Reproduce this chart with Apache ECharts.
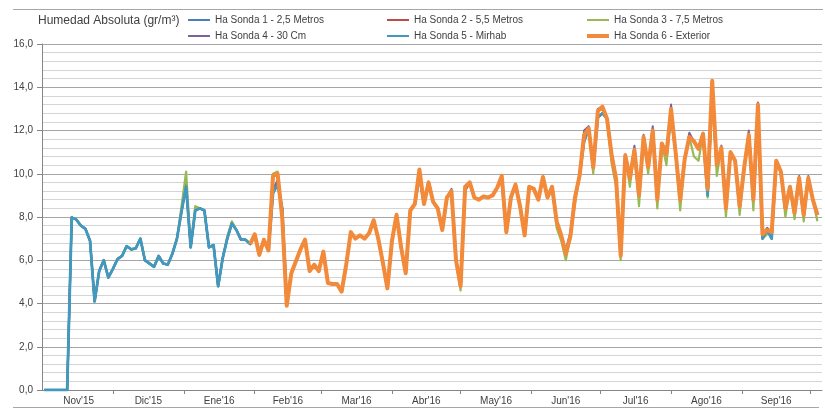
<!DOCTYPE html>
<html>
<head>
<meta charset="utf-8">
<title>Humedad Absoluta</title>
<script src="https://cdn.jsdelivr.net/npm/echarts@6/dist/echarts.min.js"></script>
<style>
	html, body { margin: 0; padding: 0; background: #fff; }
	#main { width: 825px; height: 410px; }
</style>
</head>
<body>
<div id="main"></div>
<script>
// lecturas cada 2 dias desde el 1 de noviembre de 2015
var firstReading = Date.UTC(2015, 10, 1);
var stepDays = 2;
var monthLabels = ["Nov'15", "Dic'15", "Ene'16", "Feb'16", "Mar'16", "Abr'16", "May'16", "Jun'16", "Jul'16", "Ago'16", "Sep'16"];
var seriesNames = ['Ha Sonda 1 - 2,5 Metros', 'Ha Sonda 2 - 5,5 Metros', 'Ha Sonda 3 - 7,5 Metros',
	'Ha Sonda 4 - 30 Cm', 'Ha Sonda 5 - Mirhab', 'Ha Sonda 6 - Exterior'];

var sonda1 = [
	0, 0, 0, 0, 0, 0, 7.98, 7.88, 7.6, 7.45,
	6.9, 4.1, 5.5, 6.0, 5.2, 5.6, 6.05, 6.2, 6.65, 6.5,
	6.55, 7.0, 6.0, 5.85, 5.7, 6.2, 5.85, 5.8, 6.3, 7.0,
	8.25, 9.5, 6.6, 8.3, 8.4, 8.3, 6.6, 6.7, 4.8, 6.1,
	7.0, 7.7, 7.4, 6.95, 6.95, 6.75, 7.2, 6.25, 6.95, 6.45,
	9.2, 9.6, 8.4, 4.1, 5.4, 5.95, 6.5, 6.95, 5.5, 5.8,
	5.5, 6.4, 4.95, 4.9, 4.9, 4.55, 5.8, 7.3, 7.0, 7.15,
	7.0, 7.25, 7.85, 7.0, 5.9, 4.7, 6.9, 8.1, 6.6, 5.4,
	8.3, 8.6, 9.9, 8.6, 9.6, 8.7, 8.4, 7.4, 8.9, 9.2,
	6.0, 4.8, 9.2, 9.6, 8.9, 8.8, 8.95, 8.9, 9.0, 9.35,
	9.7, 7.3, 8.9, 9.5, 8.5, 7.15, 9.4, 9.3, 8.8, 9.85,
	8.9, 9.4, 7.8, 7.15, 6.3, 7.1, 8.9, 9.9, 11.5, 12.1,
	10.3, 12.6, 12.8, 12.55, 10.9, 9.74, 6.2, 10.85, 9.8, 11.1,
	9.0, 11.7, 10.3, 12.0, 9.0, 11.4, 10.9, 12.7, 11.0, 8.8,
	10.7, 11.7, 11.5, 11.15, 11.85, 9.0, 13.6, 10.4, 11.2, 8.6,
	11.0, 10.6, 8.5, 10.3, 11.8, 8.8, 12.8, 7.1, 7.4, 7.0,
	10.6, 10.1, 8.4, 9.4, 8.2, 9.8, 8.1, 9.8, 8.8, 8.1
];
var sonda2 = [
	0, 0, 0, 0, 0, 0, 7.98, 7.88, 7.6, 7.45,
	6.9, 4.1, 5.5, 6.0, 5.2, 5.6, 6.05, 6.2, 6.65, 6.5,
	6.55, 7.0, 6.0, 5.85, 5.7, 6.2, 5.85, 5.8, 6.3, 7.0,
	8.3, 9.6, 6.6, 8.3, 8.4, 8.3, 6.6, 6.7, 4.8, 6.1,
	7.0, 7.7, 7.4, 6.95, 6.95, 6.75, 7.2, 6.25, 6.95, 6.45,
	9.1, 9.5, 8.4, 4.1, 5.4, 5.95, 6.5, 6.95, 5.5, 5.8,
	5.5, 6.4, 4.95, 4.9, 4.9, 4.55, 5.8, 7.3, 7.0, 7.15,
	7.0, 7.25, 7.85, 7.0, 5.9, 4.7, 6.9, 8.1, 6.6, 5.4,
	8.3, 8.6, 9.9, 8.6, 9.6, 8.7, 8.4, 7.4, 8.9, 9.2,
	6.0, 4.8, 9.4, 9.6, 8.9, 8.8, 8.95, 8.9, 9.0, 9.35,
	9.7, 7.3, 8.9, 9.5, 8.5, 7.15, 9.4, 9.3, 8.8, 9.85,
	8.9, 9.4, 7.8, 7.15, 6.3, 7.1, 8.9, 9.9, 11.5, 12.1,
	10.3, 12.6, 12.8, 12.55, 10.9, 9.74, 6.2, 10.85, 9.8, 11.1,
	9.0, 11.7, 10.3, 12.0, 9.0, 11.4, 10.9, 12.7, 11.0, 8.8,
	10.7, 11.7, 11.5, 11.15, 11.85, 9.0, 13.7, 10.4, 11.2, 8.6,
	11.0, 10.6, 8.5, 10.3, 11.8, 8.8, 12.8, 7.0, 7.4, 7.0,
	10.6, 10.1, 8.4, 9.4, 8.2, 9.8, 8.1, 9.8, 8.8, 8.1
];
var sonda3 = [
	0, 0, 0, 0, 0, 0, 7.98, 7.88, 7.6, 7.45,
	6.9, 4.1, 5.5, 6.0, 5.2, 5.6, 6.05, 6.2, 6.65, 6.5,
	6.55, 7.0, 6.0, 5.85, 5.7, 6.2, 5.85, 5.8, 6.3, 7.0,
	8.5, 10.1, 6.6, 8.5, 8.4, 8.3, 6.6, 6.7, 4.8, 6.1,
	7.1, 7.8, 7.4, 6.95, 6.95, 6.75, 7.2, 6.25, 6.95, 6.45,
	10.0, 10.1, 8.0, 3.9, 5.4, 5.95, 6.5, 6.95, 5.5, 5.8,
	5.5, 6.4, 4.95, 4.9, 4.9, 4.55, 5.8, 7.3, 7.0, 7.15,
	7.0, 7.25, 7.85, 7.0, 5.9, 4.7, 6.9, 8.1, 6.6, 5.4,
	8.3, 8.6, 10.0, 8.6, 9.6, 8.7, 8.4, 7.4, 8.9, 9.2,
	6.0, 4.6, 9.4, 9.6, 8.9, 8.8, 8.95, 8.9, 9.0, 9.35,
	9.9, 7.3, 8.9, 9.5, 8.5, 7.15, 9.4, 9.3, 8.8, 9.85,
	8.9, 9.4, 7.5, 6.9, 6.0, 7.1, 8.6, 9.9, 11.8, 12.1,
	10.0, 12.9, 13.1, 12.55, 10.5, 9.4, 6.0, 10.85, 9.4, 11.1,
	8.5, 11.7, 10.0, 12.0, 8.4, 11.4, 10.4, 13.0, 11.0, 8.3,
	10.7, 11.7, 10.8, 10.6, 11.85, 8.9, 14.0, 9.9, 11.2, 8.0,
	11.0, 10.6, 8.1, 10.3, 11.8, 8.3, 13.2, 7.0, 7.2, 7.3,
	10.6, 10.1, 8.0, 9.4, 7.9, 9.8, 7.8, 9.8, 8.8, 7.8
];
var sonda4 = [
	0, 0, 0, 0, 0, 0, 7.98, 7.88, 7.6, 7.45,
	6.9, 4.1, 5.5, 6.0, 5.2, 5.6, 6.05, 6.2, 6.65, 6.5,
	6.55, 7.0, 6.0, 5.85, 5.7, 6.2, 5.85, 5.8, 6.3, 7.0,
	8.25, 9.4, 6.6, 8.3, 8.4, 8.3, 6.6, 6.7, 4.8, 6.1,
	7.0, 7.7, 7.4, 6.95, 6.95, 6.75, 7.2, 6.25, 6.95, 6.45,
	9.3, 9.7, 8.3, 4.0, 5.4, 5.95, 6.5, 6.95, 5.5, 5.8,
	5.5, 6.4, 4.95, 4.9, 4.9, 4.55, 5.8, 7.3, 7.0, 7.15,
	7.0, 7.25, 7.85, 7.0, 5.9, 4.7, 6.9, 8.1, 6.6, 5.4,
	8.3, 8.6, 10.0, 8.6, 9.6, 8.7, 8.4, 7.4, 8.9, 9.3,
	6.0, 4.8, 9.4, 9.6, 8.9, 8.8, 8.95, 8.9, 9.0, 9.35,
	9.8, 7.3, 8.9, 9.5, 8.5, 7.15, 9.4, 9.3, 8.8, 9.85,
	8.9, 9.4, 7.8, 7.15, 6.5, 7.3, 8.9, 9.9, 12.0, 12.2,
	10.3, 13.0, 13.1, 12.6, 10.9, 9.74, 6.3, 10.9, 9.8, 11.3,
	9.0, 11.8, 10.3, 12.2, 9.0, 11.4, 10.9, 13.2, 11.0, 8.8,
	10.7, 11.9, 11.5, 11.15, 11.9, 9.3, 13.9, 10.4, 11.3, 8.6,
	11.0, 10.6, 8.5, 10.3, 12.0, 8.8, 13.3, 7.2, 7.5, 7.3,
	10.6, 10.1, 8.4, 9.4, 8.2, 9.9, 8.1, 9.9, 8.8, 8.2
];
var sonda5 = [
	0, 0, 0, 0, 0, 0, 7.98, 7.88, 7.6, 7.45,
	6.9, 4.1, 5.5, 6.0, 5.2, 5.6, 6.05, 6.2, 6.65, 6.5,
	6.55, 7.0, 6.0, 5.85, 5.7, 6.2, 5.85, 5.8, 6.3, 7.0,
	8.25, 9.4, 6.6, 8.3, 8.4, 8.3, 6.6, 6.7, 4.8, 6.1,
	7.0, 7.7, 7.4, 6.95, 6.95, 6.75, 7.2, 6.25, 6.95, 6.45,
	9.1, 9.5, 8.4, 4.1, 5.4, 5.95, 6.5, 6.95, 5.5, 5.8,
	5.5, 6.4, 4.95, 4.9, 4.9, 4.55, 5.8, 7.3, 7.0, 7.15,
	7.0, 7.25, 7.85, 7.0, 5.9, 4.7, 6.9, 8.1, 6.6, 5.4,
	8.3, 8.6, 9.9, 8.6, 9.6, 8.7, 8.4, 7.4, 8.9, 9.2,
	6.0, 4.8, 9.4, 9.6, 8.9, 8.8, 8.95, 8.9, 9.0, 9.35,
	9.7, 7.3, 8.9, 9.5, 8.5, 7.15, 9.4, 9.3, 8.8, 9.85,
	8.9, 9.4, 7.8, 7.15, 6.3, 7.1, 8.9, 9.9, 11.5, 12.1,
	10.3, 12.6, 12.8, 12.55, 10.9, 9.74, 6.2, 10.85, 9.8, 11.1,
	9.0, 11.7, 10.3, 12.0, 9.0, 11.4, 10.9, 12.7, 11.0, 8.8,
	10.7, 11.7, 11.5, 11.15, 11.85, 9.0, 13.8, 10.4, 11.2, 8.6,
	11.0, 10.6, 8.5, 10.3, 11.8, 8.8, 12.8, 7.0, 7.4, 7.0,
	10.6, 10.1, 8.4, 9.4, 8.2, 9.8, 8.1, 9.8, 8.8, 8.1
];
var sonda6 = [
	null, null, null, null, null, null, null, null, null, null,
	null, null, null, null, null, null, null, null, null, null,
	null, null, null, null, null, null, null, null, null, null,
	null, null, null, null, null, null, null, null, null, null,
	null, null, null, null, null, 6.75, 7.2, 6.25, 6.95, 6.45,
	9.9, 10.0, 8.0, 3.9, 5.4, 5.95, 6.5, 6.95, 5.5, 5.8,
	5.5, 6.4, 4.95, 4.9, 4.9, 4.55, 5.8, 7.3, 7.0, 7.15,
	7.0, 7.25, 7.85, 7.0, 5.9, 4.7, 6.9, 8.1, 6.6, 5.4,
	8.3, 8.6, 10.2, 8.6, 9.6, 8.7, 8.4, 7.4, 8.9, 9.2,
	6.0, 4.8, 9.4, 9.6, 8.9, 8.8, 8.95, 8.9, 9.0, 9.35,
	9.9, 7.3, 8.9, 9.5, 8.5, 7.15, 9.4, 9.3, 8.8, 9.85,
	8.9, 9.4, 7.8, 7.15, 6.3, 7.1, 8.9, 9.9, 11.8, 12.1,
	10.3, 12.9, 13.1, 12.55, 10.9, 9.74, 6.2, 10.85, 9.8, 11.1,
	9.0, 11.7, 10.3, 12.0, 8.8, 11.4, 10.9, 13.0, 11.0, 8.8,
	10.7, 11.7, 11.5, 11.15, 11.85, 9.3, 14.3, 10.4, 11.2, 8.4,
	11.0, 10.6, 8.5, 10.3, 11.8, 8.8, 13.2, 7.2, 7.4, 7.3,
	10.6, 10.1, 8.4, 9.4, 8.2, 9.8, 8.1, 9.8, 8.8, 8.1
];

var seriesValues = [sonda1, sonda2, sonda3, sonda4, sonda5, sonda6];
var seriesColors = ['#4a7ebb', '#be4b48', '#98b954', '#7d60a0', '#4199bf', '#f28a3a'];
var seriesWidths = [2.2, 2, 2.2, 2, 2.8, 4];
var legendPos = [[188, 15], [387, 15], [587, 15], [188, 31], [387, 31], [587, 31]];

var DAY = 86400000;
var axisStart = Date.UTC(2015, 9, 31);
var axisEnd = Date.UTC(2016, 9, 6);
function dayOf(t) {
	return (t - axisStart) / DAY;
}

// limites de mes (ticks) y centro de cada mes (etiquetas)
var monthEdges = [];
for (var k = 0; k <= monthLabels.length; k++) {
	monthEdges.push(dayOf(Date.UTC(2015, 10 + k, 1)));
}
var monthMids = [];
for (var k = 0; k < monthLabels.length; k++) {
	monthMids.push((monthEdges[k] + monthEdges[k + 1]) / 2);
}

function toPairs(values) {
	var out = [];
	var d0 = dayOf(firstReading);
	for (var i = 0; i < values.length; i++) {
		out.push([d0 + i * stepDays, values[i]]);
	}
	return out;
}

var font = '"Liberation Sans", Arial, sans-serif';
var textColor = '#404040';

var legends = [];
var series = [];
for (var s = 0; s < seriesNames.length; s++) {
	legends.push({
		data: [seriesNames[s]],
		left: legendPos[s][0],
		top: legendPos[s][1],
		padding: 0,
		icon: 'rect',
		itemWidth: 22,
		itemHeight: s === 5 ? 4 : 2,
		selectedMode: false,
		textStyle: { fontSize: 10, color: textColor, fontFamily: font }
	});
	series.push({
		name: seriesNames[s],
		type: 'line',
		data: toPairs(seriesValues[s]),
		showSymbol: false,
		symbol: 'none',
		color: seriesColors[s],
		lineStyle: { width: seriesWidths[s], color: seriesColors[s], join: 'round' },
		emphasis: { disabled: true },
		animation: false
	});
}

var myChart = echarts.init(document.getElementById('main'));
var option = {
	backgroundColor: '#ffffff',
	animation: false,
	title: {
		text: 'Humedad Absoluta (gr/m³)',
		left: 38,
		top: 15,
		padding: 0,
		textStyle: { fontSize: 12, fontWeight: 'normal', color: textColor, fontFamily: font }
	},
	legend: legends,
	grid: { left: 42, right: 3, top: 44, bottom: 20, containLabel: false, outerBoundsMode: 'none' },
	xAxis: {
		type: 'value',
		min: 0,
		max: dayOf(axisEnd),
		splitLine: { show: false },
		axisLine: { show: true, lineStyle: { color: '#868686', width: 1 } },
		axisTick: {
			show: true,
			customValues: monthEdges.slice(1),
			length: 4,
			lineStyle: { color: '#868686' }
		},
		axisLabel: {
			customValues: monthMids,
			margin: 6,
			fontSize: 10,
			color: textColor,
			fontFamily: font,
			formatter: function(val) {
				for (var i = 0; i < monthMids.length; i++) {
					if (Math.abs(monthMids[i] - val) < 0.01) return monthLabels[i];
				}
				return '';
			}
		}
	},
	yAxis: {
		type: 'value',
		min: 0,
		max: 16,
		interval: 2,
		axisLine: { show: true, lineStyle: { color: '#868686', width: 1 } },
		axisTick: { show: true, length: 5, lineStyle: { color: '#868686' } },
		axisLabel: {
			margin: 9,
			fontSize: 10,
			color: textColor,
			fontFamily: font,
			formatter: function(v) {
				return v.toFixed(1).replace('.', ',');
			}
		},
		splitLine: { show: true, lineStyle: { color: '#a6a6a6', width: 1 } },
		minorTick: { show: false, splitNumber: 5 },
		minorSplitLine: { show: true, lineStyle: { color: '#d4d4d4', width: 1 } }
	},
	graphic: [
		{ type: 'line', shape: { x1: 13, y1: 9.5, x2: 823, y2: 9.5 }, style: { stroke: '#a6a6a6', lineWidth: 1 }, silent: true },
		{ type: 'line', shape: { x1: 13, y1: 407.5, x2: 819, y2: 407.5 }, style: { stroke: '#a6a6a6', lineWidth: 1 }, silent: true }
	],
	series: series
};
myChart.setOption(option);
</script>
</body>
</html>
